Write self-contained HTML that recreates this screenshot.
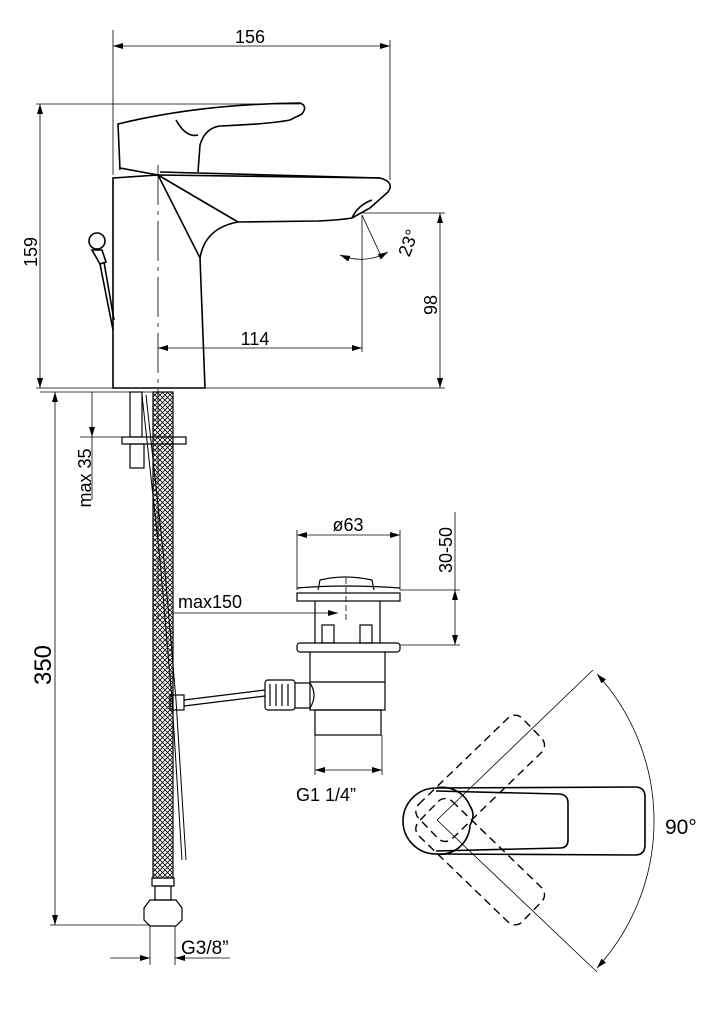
<!DOCTYPE html>
<html><head><meta charset="utf-8"><style>
html,body{margin:0;padding:0;background:#fff}
svg{display:block}
text{font-family:"Liberation Sans",Arial,sans-serif;fill:#000}
</style></head><body>
<svg width="728" height="1030" viewBox="0 0 728 1030" xmlns="http://www.w3.org/2000/svg">
<defs>
<marker id="a" viewBox="0 0 10 6" refX="10" refY="3" markerWidth="10" markerHeight="6" orient="auto-start-reverse" markerUnits="userSpaceOnUse"><path d="M0,0L10,3L0,6z" fill="#000"/></marker>
<pattern id="hx" width="5" height="5" patternUnits="userSpaceOnUse"><path d="M0,0L5,5M5,0L0,5" stroke="#000" stroke-width="0.8"/></pattern>
</defs>
<g stroke="#000" fill="none" stroke-width="0.8">
<line x1="113" y1="30" x2="113" y2="175"/><line x1="390" y1="40" x2="390" y2="180"/>
<line x1="113" y1="46" x2="390" y2="46" marker-start="url(#a)" marker-end="url(#a)"/>
<line x1="36" y1="104" x2="300" y2="104"/><line x1="36" y1="388" x2="445" y2="388"/>
<line x1="40" y1="104" x2="40" y2="388" marker-start="url(#a)" marker-end="url(#a)"/>
<line x1="360" y1="213" x2="445" y2="213"/>
<line x1="440" y1="213" x2="440" y2="388" marker-start="url(#a)" marker-end="url(#a)"/>
<line x1="362" y1="215" x2="362" y2="352"/>
<line x1="158" y1="348" x2="362" y2="348" marker-start="url(#a)" marker-end="url(#a)"/>
<line x1="362" y1="215" x2="382" y2="258"/>
<path d="M340,255 Q365,265 388,252" marker-start="url(#a)" marker-end="url(#a)"/>
<line x1="158" y1="165" x2="158" y2="620" stroke-dasharray="40,6,4,6"/>
</g>
<g stroke="#000" fill="none" stroke-width="1.6">
<path d="M113,388 L113,178 L158,175 L380,178 Q395,182 388,192 L370,208 L352,218 Q340,220 318,221 L238,222 Q205,228 200,258 L205,388 Z"/>
<path d="M158,175 L238,222 M158,175 L200,258"/>
<path d="M120,170 L118,124 Q200,104 300,103 Q308,106 302,114 L290,120 Q270,124 220,126 Q205,128 200,145 L198,172"/>
<path d="M120,168 L158,175 M160,172 L380,178"/>
<path d="M176,120 Q186,138 198,135"/>
<path d="M352,218 Q358,205 372,200"/>
<circle cx="97" cy="241" r="8"/><path d="M92,250 L102,250 L106,262 L100,264 Z"/>
<path d="M100,264 L113,330 M104,262 L114,320"/>
</g>
<g stroke="#000" fill="none" stroke-width="1.2">
<rect x="153" y="392" width="20" height="486" fill="url(#hx)"/>
<rect x="130" y="392" width="12" height="45"/>
<rect x="122" y="437" width="64" height="7"/>
<rect x="130" y="444" width="14" height="24"/>
<path d="M142,395 L160,560 L172,700 L182,860" stroke-width="1"/>
<path d="M146,395 L164,560 L176,700 L186,860" stroke-width="1"/>
<rect x="152" y="878" width="22" height="8"/>
<rect x="155" y="886" width="16" height="14"/>
<path d="M150,900 L176,900 L182,908 L182,920 L176,926 L150,926 L144,920 L144,908 Z"/>
<rect x="170" y="695" width="14" height="15"/>
<path d="M184,700 L265,690 M184,706 L265,696"/>
<rect x="265" y="680" width="30" height="30" rx="3"/>
<path d="M270,684 L270,706 M276,684 L276,706 M282,684 L282,706 M288,684 L288,706"/>
<path d="M295,683 L310,683 Q318,695 310,708 L295,708"/>
<path d="M318,590 L320,580 Q345,574 372,580 L374,590"/>
<path d="M297,588 Q345,584 400,588"/>
<rect x="297" y="593" width="103" height="8"/>
<path d="M315,601 L315,643 M380,601 L380,643"/>
<rect x="322" y="625" width="12" height="18"/><rect x="360" y="625" width="12" height="18"/>
<rect x="297" y="643" width="103" height="9" rx="3"/>
<path d="M310,652 L310,710 L385,710 L385,652"/>
<path d="M310,682 L385,682"/>
<rect x="315" y="710" width="66" height="25"/>
</g>
<g stroke="#000" fill="none" stroke-width="0.8">
<line x1="80" y1="437" x2="125" y2="437"/>
<line x1="92" y1="392" x2="92" y2="437" marker-end="url(#a)"/>
<line x1="92" y1="437" x2="92" y2="500"/>
<line x1="40" y1="392" x2="155" y2="392"/>
<line x1="50" y1="925" x2="150" y2="925"/>
<line x1="55" y1="392" x2="55" y2="925" marker-start="url(#a)" marker-end="url(#a)"/>
<line x1="150" y1="926" x2="150" y2="965"/><line x1="175" y1="926" x2="175" y2="965"/>
<line x1="110" y1="958" x2="150" y2="958" marker-end="url(#a)"/>
<line x1="175" y1="958" x2="230" y2="958" marker-start="url(#a)"/>
<line x1="172" y1="613" x2="338" y2="613" marker-end="url(#a)"/>
<line x1="346" y1="578" x2="346" y2="620" stroke-dasharray="6,3"/>
<line x1="297" y1="530" x2="297" y2="590"/><line x1="400" y1="530" x2="400" y2="590"/>
<line x1="297" y1="535" x2="400" y2="535" marker-start="url(#a)" marker-end="url(#a)"/>
<line x1="400" y1="590" x2="460" y2="590"/><line x1="400" y1="645" x2="460" y2="645"/>
<line x1="455" y1="512" x2="455" y2="590"/>
<line x1="455" y1="590" x2="455" y2="645" marker-start="url(#a)" marker-end="url(#a)"/>
<line x1="315" y1="735" x2="315" y2="775"/><line x1="382" y1="735" x2="382" y2="775"/>
<line x1="315" y1="770" x2="382" y2="770" marker-start="url(#a)" marker-end="url(#a)"/>
<line x1="437" y1="820" x2="593" y2="670"/>
<line x1="437" y1="820" x2="597" y2="972"/>
<path d="M597,674 A218,218 0 0 1 597,968" marker-start="url(#a)" marker-end="url(#a)"/>
</g>
<g stroke="#000" fill="none" stroke-width="1.6">
<path d="M436,788 L635,787 Q645,787 645,797 L645,845 Q645,855 635,855 L436,854"/>
<path d="M436,791 L560,794 Q568,795 568,803 L568,840 Q568,848 560,848 L436,851"/>
<path d="M436,788 A33,33 0 1 0 436,854 A30,30 0 0 0 470,825 Q476,815 470,806 A30,30 0 0 0 436,788"/>
<g stroke-dasharray="8,5" stroke-width="1.4">
<rect x="-12" y="-24" width="144" height="48" rx="10" transform="translate(437,820) rotate(-44)"/>
<rect x="-12" y="-24" width="144" height="48" rx="10" transform="translate(437,820) rotate(44)"/>
</g>
</g>
<text x="250" y="43" font-size="18" text-anchor="middle">156</text>
<text transform="translate(37,252) rotate(-90)" font-size="18" text-anchor="middle">159</text>
<text transform="translate(437,305) rotate(-90)" font-size="18" text-anchor="middle">98</text>
<text x="255" y="345" font-size="18" text-anchor="middle">114</text>
<text transform="translate(414,245) rotate(-70)" font-size="18" text-anchor="middle">23°</text>
<text transform="translate(91,478) rotate(-90)" font-size="18" text-anchor="middle">max 35</text>
<text transform="translate(51,665) rotate(-90)" font-size="24" text-anchor="middle">350</text>
<text x="178" y="608" font-size="18">max150</text>
<text x="348" y="531" font-size="18" text-anchor="middle">ø63</text>
<text transform="translate(452,550) rotate(-90)" font-size="18" text-anchor="middle">30-50</text>
<text x="296" y="801" font-size="18">G1 1/4”</text>
<text x="181" y="954" font-size="19">G3/8”</text>
<text x="665" y="834" font-size="21">90°</text>
</svg>
</body></html>
